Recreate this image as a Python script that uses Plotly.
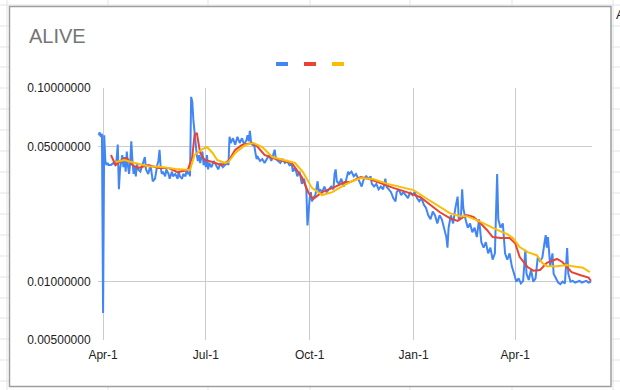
import plotly.graph_objects as go
import pandas as pd

# ---------------- data (day offsets from 2021-04-01) ----------------
START = pd.Timestamp("2021-04-01")

blue_days = [-4, -3, -2, -1, 0, 1, 2, 3, 4, 5, 7, 9, 11, 12, 13, 14, 15, 16, 17, 18, 19, 20, 21, 22, 23, 24,
             25, 26, 27, 28, 29, 30, 31, 33, 35, 37, 38, 40, 42, 43, 44, 46, 47, 48, 49, 50, 51, 52, 53, 55,
             56, 58, 59, 61, 62, 64, 66, 67, 68, 70, 71, 73, 74, 75, 76, 77, 78, 79, 80, 81, 82, 83,
             84, 85, 86, 87, 88, 89, 90, 91, 92, 93, 94, 96, 98, 100, 102, 104, 106, 108, 110, 111,
             112, 113, 115, 117, 119, 121, 123, 125, 127, 128, 129, 130, 131, 132, 134, 135, 136, 137,
             139, 141, 143, 145, 147, 149, 151, 152, 153, 155, 157, 159, 161, 163, 165, 167, 168, 170,
             172, 174, 176, 178, 180, 181, 182, 183, 184, 185, 186, 188, 190, 191, 192, 194, 196, 198,
             200, 202, 204, 205, 206, 207, 209, 211, 213, 215, 217, 218, 220, 222, 224, 225, 227, 229,
             231, 233, 235, 237, 238, 240, 242, 244, 246, 248, 250, 251, 253, 255, 257, 259, 260, 262,
             264, 266, 268, 270, 272, 274, 276, 278, 280, 282, 284, 286, 288, 290, 292, 294, 296, 298,
             300, 302, 304, 305, 306, 308, 310, 312, 314, 315, 317, 318, 319, 321, 323, 325, 327, 329,
             331, 333, 335, 337, 339, 341, 343, 345, 347, 349, 350, 352, 354, 356, 358, 360, 362, 364,
             366, 368, 370, 372, 374, 375, 377, 379, 381, 383, 385, 387, 389, 391, 392, 393, 394, 396,
             398, 399, 401, 403, 405, 407, 409, 411, 412, 414, 416, 418, 420, 422, 424, 426, 428, 430, 432]
blue_vals = [0.057, 0.059, 0.056, 0.058, 0.0069, 0.057, 0.042, 0.040, 0.041, 0.040, 0.040, 0.041, 0.040,
             0.043, 0.051, 0.030, 0.038, 0.042, 0.045, 0.039, 0.044, 0.037, 0.047, 0.040, 0.036, 0.041,
             0.053, 0.042, 0.036, 0.039, 0.035, 0.041, 0.038, 0.037, 0.040, 0.044, 0.038, 0.036, 0.040,
             0.035, 0.033, 0.034, 0.038, 0.040, 0.042, 0.048, 0.039, 0.036, 0.037, 0.035, 0.038, 0.036,
             0.034, 0.037, 0.035, 0.036, 0.034, 0.037, 0.035, 0.034, 0.036, 0.035, 0.038, 0.036, 0.037,
             0.035, 0.090, 0.085, 0.068, 0.058, 0.050, 0.045,
             0.042, 0.045, 0.041, 0.044, 0.047, 0.040, 0.043, 0.039, 0.045, 0.038, 0.041, 0.039, 0.042,
             0.040, 0.038, 0.041, 0.039, 0.040, 0.041, 0.040,
             0.056, 0.052, 0.055, 0.051, 0.056, 0.052, 0.055, 0.051, 0.054, 0.057, 0.053, 0.060, 0.053,
             0.051, 0.050, 0.046, 0.043, 0.044, 0.042, 0.043, 0.041, 0.043, 0.045, 0.042, 0.046, 0.048,
             0.043, 0.042, 0.041, 0.043, 0.041, 0.042, 0.040, 0.041, 0.037, 0.039, 0.035, 0.037, 0.032,
             0.034, 0.030, 0.0195, 0.024, 0.027, 0.029, 0.026, 0.027, 0.028, 0.033, 0.029, 0.030, 0.029,
             0.031, 0.029, 0.030, 0.031, 0.030, 0.036, 0.038, 0.033, 0.032, 0.034, 0.031, 0.033, 0.037,
             0.036, 0.037, 0.035, 0.036, 0.035, 0.033, 0.031, 0.034, 0.035, 0.034, 0.035, 0.032, 0.031,
             0.032, 0.030, 0.031, 0.030, 0.034, 0.031, 0.030, 0.029, 0.027, 0.026, 0.029, 0.030, 0.028,
             0.029, 0.028, 0.027, 0.029, 0.028, 0.029, 0.027, 0.026, 0.027, 0.025, 0.024, 0.022, 0.021,
             0.023, 0.022, 0.020, 0.022, 0.021, 0.019, 0.017, 0.015, 0.019, 0.022, 0.020, 0.024, 0.0275,
             0.021, 0.022, 0.030, 0.024, 0.021, 0.019, 0.020, 0.018, 0.019, 0.017, 0.021, 0.016, 0.015,
             0.016, 0.014, 0.015, 0.013, 0.014, 0.036, 0.021, 0.019, 0.020, 0.014, 0.013, 0.014, 0.012,
             0.011, 0.0100, 0.0104, 0.0098, 0.0101, 0.0146, 0.0110, 0.0102, 0.0115, 0.0100, 0.0104,
             0.0134, 0.0128, 0.0133, 0.0160, 0.0174, 0.0150, 0.0170, 0.0120, 0.0140, 0.0110, 0.0105,
             0.0099, 0.0097, 0.0100, 0.0098, 0.0149, 0.0110, 0.0100, 0.0101, 0.0099, 0.0100, 0.0101,
             0.0099, 0.0100, 0.0101, 0.0099, 0.0100]

red_days = [7, 11, 17, 21, 26, 31, 40, 49, 58, 66, 75, 79, 81, 83, 86, 90, 97, 105, 111, 117, 123, 132,
            137, 143, 150, 159, 167, 176, 182, 186, 194, 205, 214, 219, 228, 236, 245, 257, 269, 281, 290,
            298, 307, 314, 322, 328, 334, 340, 345, 352, 360, 365, 369, 376, 381, 387, 393, 402, 407, 415,
            423, 430, 432]
red_vals = [0.0451, 0.0400, 0.0425, 0.0435, 0.0400, 0.0386, 0.0400, 0.0386, 0.0386, 0.0368, 0.0377, 0.0440,
            0.0572, 0.0586, 0.0462, 0.0425, 0.0415, 0.0400, 0.0420, 0.0479, 0.0508, 0.0520, 0.0496, 0.0451,
            0.0435, 0.0420, 0.0410, 0.0347, 0.0287, 0.0267, 0.0290, 0.0308, 0.0327, 0.0327, 0.0347, 0.0339,
            0.0323, 0.0305, 0.0290, 0.0273, 0.0249, 0.0229, 0.0213, 0.0206, 0.0221, 0.0216, 0.0201, 0.0185,
            0.0170, 0.0168, 0.0168, 0.0158, 0.0134, 0.0119, 0.0114, 0.0115, 0.0125, 0.0131, 0.0126, 0.0112,
            0.0108, 0.0105, 0.0101]

yellow_days = [11, 19, 28, 40, 52, 64, 77, 81, 88, 92, 97, 101, 108, 111, 117, 126, 133, 141, 150, 159,
               170, 177, 185, 194, 203, 214, 219, 228, 239, 252, 263, 275, 283, 296, 307, 316, 322, 331,
               340, 349, 358, 363, 369, 376, 384, 389, 393, 402, 411, 416, 425, 431]
yellow_vals = [0.0415, 0.0425, 0.0410, 0.0395, 0.0391, 0.0382, 0.0377, 0.0451, 0.0484, 0.0496, 0.0462,
               0.0425, 0.0410, 0.0415, 0.0462, 0.0508, 0.0520, 0.0496, 0.0440, 0.0425, 0.0410, 0.0368,
               0.0305, 0.0280, 0.0290, 0.0316, 0.0327, 0.0343, 0.0339, 0.0320, 0.0308, 0.0297, 0.0277,
               0.0249, 0.0226, 0.0218, 0.0218, 0.0208, 0.0196, 0.0185, 0.0176, 0.0168, 0.0151, 0.0142,
               0.0137, 0.0125, 0.0120, 0.0120, 0.0122, 0.0120, 0.0118, 0.0112]

series_colors = ["#4285F4", "#EA4335", "#FBBC04"]

tick_dates = ["2021-04-01", "2021-07-01", "2021-10-01", "2022-01-01", "2022-04-01"]
tick_text = ["Apr-1", "Jul-1", "Oct-1", "Jan-1", "Apr-1"]
y_tickvals = [0.005, 0.01, 0.05, 0.1]
y_ticktext = ["0.00500000", "0.01000000", "0.05000000", "0.10000000"]


def to_dates(days):
    return [START + pd.Timedelta(days=d) for d in days]


fig = go.Figure()
for days, vals, col in [(blue_days, blue_vals, series_colors[0]),
                        (red_days, red_vals, series_colors[1]),
                        (yellow_days, yellow_vals, series_colors[2])]:
    fig.add_trace(go.Scatter(x=to_dates(days), y=vals, mode="lines",
                             line=dict(color=col, width=2), showlegend=False, hoverinfo="skip"))

# ---------------- page geometry ----------------
W, H = 620, 390
L, R, T, B = 98, 28, 88, 50
PW, PH = W - L - R, H - T - B


def px(x):
    return (x - L) / PW


def py(y):
    return (H - B - y) / PH


shapes = []
# spreadsheet cell grid behind the chart
for gy in [5, 26, 47, 67, 88, 109, 130, 151, 172, 193, 214, 235, 256, 277, 298, 318, 339, 360, 381]:
    shapes.append(dict(type="line", xref="paper", yref="paper", x0=px(0), x1=px(W), y0=py(gy), y1=py(gy),
                       line=dict(color="#e2e3e3", width=1), layer="below"))
for gx in [7, 108, 208, 310, 410, 512, 613]:
    shapes.append(dict(type="line", xref="paper", yref="paper", x0=px(gx), x1=px(gx), y0=py(0), y1=py(H),
                       line=dict(color="#e2e3e3", width=1), layer="below"))
# chart box
shapes.append(dict(type="rect", xref="paper", yref="paper", x0=px(9.5), x1=px(611), y0=py(6.5), y1=py(386.5),
                   fillcolor="white", line=dict(color="#9e9e9e", width=1.5), layer="below"))
# legend swatches (series have no names)
for x0, col in zip([276, 304, 332], series_colors):
    shapes.append(dict(type="rect", xref="paper", yref="paper", x0=px(x0), x1=px(x0 + 12),
                       y0=py(66), y1=py(62), fillcolor=col, line=dict(width=0)))

annotations = [
    dict(text="ALIVE", xref="paper", yref="paper", x=px(27), y=py(36), xanchor="left", yanchor="middle",
         showarrow=False, font=dict(family="Arial, Liberation Sans, sans-serif", size=20, color="#757575")),
    dict(text="A", xref="paper", yref="paper", x=px(614), y=py(15), xanchor="left", yanchor="middle",
         showarrow=False, font=dict(family="Arial, Liberation Sans, sans-serif", size=13, color="#222222")),
]

fig.update_layout(
    width=W, height=H,
    margin=dict(l=L, r=R, t=T, b=B, pad=0),
    paper_bgcolor="white",
    plot_bgcolor="rgba(0,0,0,0)",
    shapes=shapes,
    annotations=annotations,
    font=dict(family="Arial, Liberation Sans, sans-serif", size=12, color="#222222"),
    xaxis=dict(type="date", range=["2021-03-27 12:00", "2022-06-08"],
               tickvals=tick_dates, ticktext=tick_text,
               showgrid=True, gridcolor="#cccccc", gridwidth=1,
               zeroline=False, showline=False,
               ticks="outside", ticklen=4, tickcolor="rgba(0,0,0,0)",
               tickfont=dict(size=12, color="#222222")),
    yaxis=dict(type="log", range=[-2.30103, -1.0],
               tickvals=y_tickvals, ticktext=y_ticktext,
               showgrid=True, gridcolor="#cccccc", gridwidth=1,
               zeroline=False, showline=False,
               ticks="outside", ticklen=4, tickcolor="rgba(0,0,0,0)",
               tickfont=dict(size=12, color="#222222")),
)

fig.write_html("out.html", config={"displayModeBar": False},
               post_script="document.body.style.margin='0';document.body.style.overflow='hidden';")
